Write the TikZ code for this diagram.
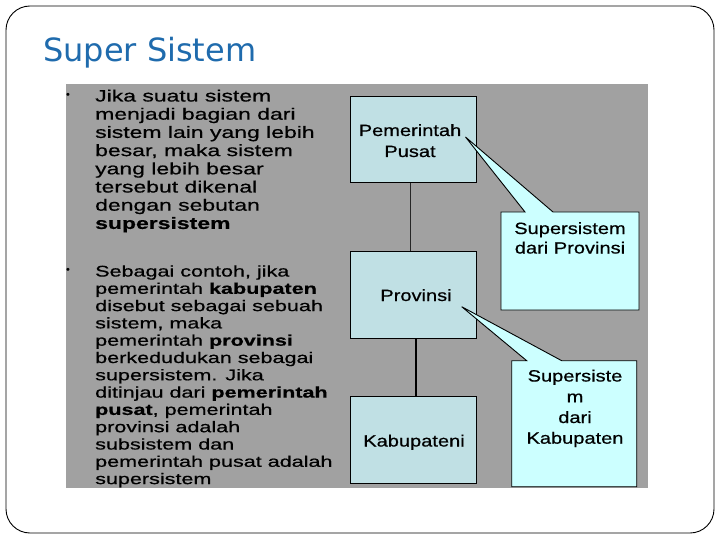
\documentclass[tikz,border=0pt]{standalone}
\usepackage{fontspec}
\setmainfont{Liberation Sans}
\newfontfamily\leftfnt[FakeStretch=1.40,FakeBold=0.6]{Liberation Sans}
\newfontfamily\boxfnt[FakeStretch=1.23,FakeBold=0.6]{Liberation Sans}
\newfontfamily\ttlfnt{DejaVu Sans}
\definecolor{slidegray}{RGB}{161,161,161}
\definecolor{treefill}{RGB}{192,224,228}
\definecolor{callfill}{RGB}{204,255,255}
\definecolor{titleblue}{RGB}{31,107,173}
\tikzset{
  paraA/.style={anchor=base west, inner sep=0pt, font=\leftfnt\fontsize{16.4}{18}\selectfont},
  paraB/.style={anchor=base west, inner sep=0pt, font=\leftfnt\fontsize{15.4}{17}\selectfont},
  bulletmark/.style={inner sep=0pt, font=\fontsize{11}{11}\selectfont},
  treebox/.style={draw=black, line width=0.9pt, fill=treefill, minimum width=125.3pt, inner sep=0pt},
  boxtext/.style={anchor=base, inner sep=0pt, font=\boxfnt\fontsize{16.3}{20}\selectfont},
  calloutshape/.style={draw=black, line width=0.9pt, fill=callfill, line join=miter},
}
\begin{document}
\begin{tikzpicture}[x=1pt,y=-1pt]
\useasboundingbox (0,0) rectangle (720,540);
\draw[rounded corners=24pt, line width=0.9pt] (6,6) rectangle (714,533);
\node[anchor=base west, inner sep=0pt, text=titleblue, font=\ttlfnt\fontsize{32}{36}\selectfont] (title) at (43,62) {Super Sistem};
\fill[slidegray] (66,84) rectangle (648,488);

% left text, paragraph 1
\node[bulletmark] (b1) at (68,95.5) {•};
\node[paraA] (a1) at (95,101.5) {Jika suatu sistem};
\node[paraA] (a2) at (95,119.7) {menjadi bagian dari};
\node[paraA] (a3) at (95,137.9) {sistem lain yang lebih};
\node[paraA] (a4) at (95,156.1) {besar, maka sistem};
\node[paraA] (a5) at (95,174.3) {yang lebih besar};
\node[paraA] (a6) at (95,192.5) {tersebut dikenal};
\node[paraA] (a7) at (95,210.7) {dengan sebutan};
\node[paraA] (a8) at (95,228.9) {\bfseries supersistem};

% left text, paragraph 2
\node[bulletmark] (b2) at (68,270.5) {•};
\node[paraB] (c1) at (95,276.5) {Sebagai contoh, jika};
\node[paraB] (c2) at (95,293.8) {pemerintah \textbf{kabupaten}};
\node[paraB] (c3) at (95,311.1) {disebut sebagai sebuah};
\node[paraB] (c4) at (95,328.4) {sistem, maka};
\node[paraB] (c5) at (95,345.7) {pemerintah \textbf{provinsi}};
\node[paraB] (c6) at (95,363.0) {berkedudukan sebagai};
\node[paraB] (c7) at (95,380.3) {supersistem. Jika};
\node[paraB] (c8) at (95,397.6) {ditinjau dari \textbf{pemerintah}};
\node[paraB] (c9) at (95,414.9) {\textbf{pusat}, pemerintah};
\node[paraB] (c10) at (95,432.2) {provinsi adalah};
\node[paraB] (c11) at (95,449.5) {subsistem dan};
\node[paraB] (c12) at (95,466.8) {pemerintah pusat adalah};
\node[paraB] (c13) at (95,484.1) {supersistem};

% tree boxes
\node[treebox, minimum height=86.7pt] (pusat) at (413.35,139.35) {};
\node[treebox, minimum height=86.6pt] (prov) at (413.35,295) {};
\node[treebox, minimum height=86.6pt] (kab) at (413.35,440) {};
\draw[line width=1pt, black!85] ([xshift=-2.7pt]pusat.south) -- ([xshift=-2.7pt]prov.north);
\draw[line width=2pt, black] ([xshift=2.7pt]prov.south) -- ([xshift=2.7pt]kab.north);
\node[boxtext] (pusatA) at (410,136) {Pemerintah};
\node[boxtext] (pusatB) at (410,157) {Pusat};
\node[boxtext] (provA) at (416,301) {Provinsi};
\node[boxtext] (kabA) at (414,446.5) {Kabupateni};

% callouts
\coordinate (tip1) at (465.5,137);
\coordinate (tip2) at (461.7,306.7);
\draw[calloutshape] (501,212) -- (525,212) -- (tip1) -- (553,212) -- (639,212) -- (639,310) -- (501,310) -- cycle;
\draw[calloutshape] (511.7,360.7) -- (526.7,360.7) -- (tip2) -- (561.7,360.7) -- (636.7,360.7) -- (636.7,486.7) -- (511.7,486.7) -- cycle;
\node[boxtext] (s1a) at (570,234) {Supersistem};
\node[boxtext] (s1b) at (570,253.5) {dari Provinsi};
\node[boxtext] (s2a) at (575,381.5) {Supersiste};
\node[boxtext] (s2b) at (575,402.3) {m};
\node[boxtext] (s2c) at (575,423) {dari};
\node[boxtext] (s2d) at (575,443.7) {Kabupaten};
\end{tikzpicture}
\end{document}
